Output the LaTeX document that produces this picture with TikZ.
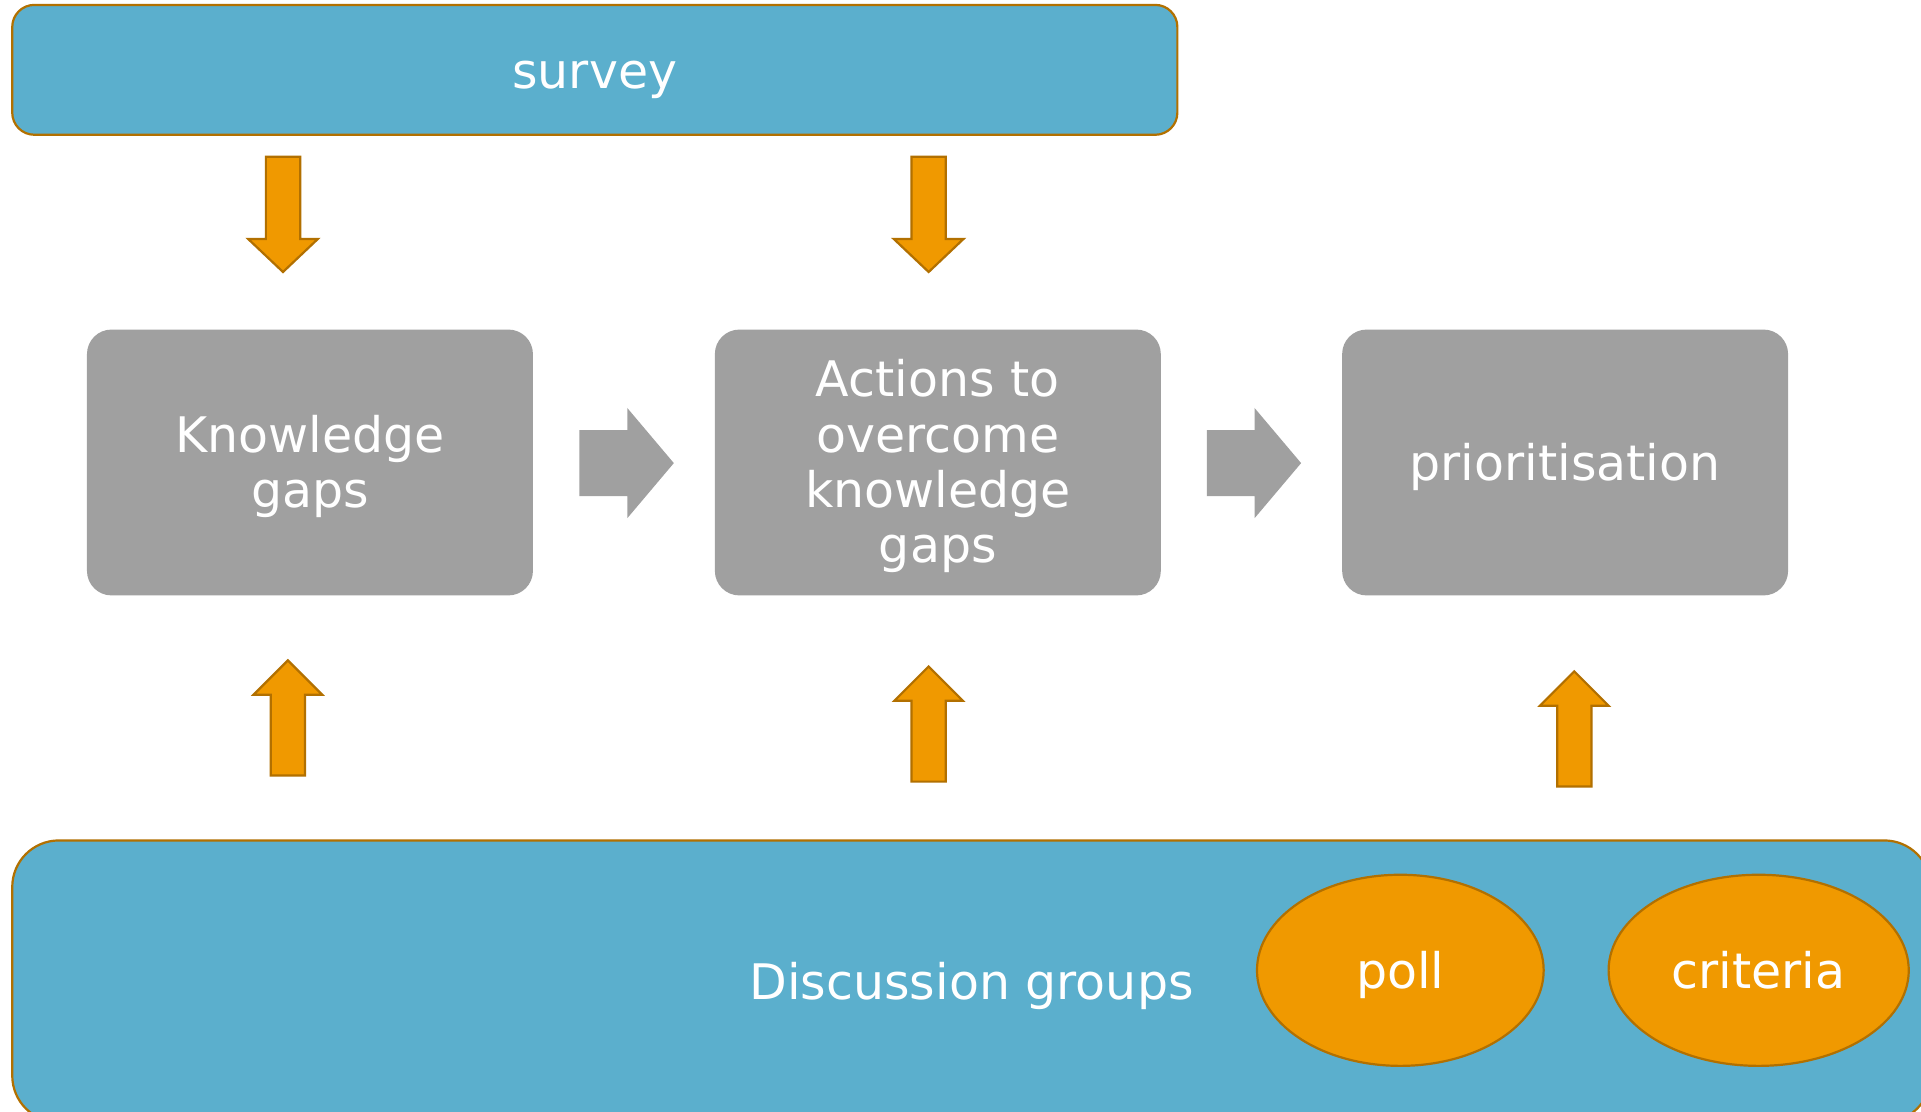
\documentclass[tikz,border=0pt]{standalone}
\usepackage{fontspec}
\setmainfont{DejaVu Sans}
\usetikzlibrary{shapes.geometric}
\definecolor{bluefill}{RGB}{91,175,205}
\definecolor{brownline}{RGB}{178,112,0}
\definecolor{orangefill}{RGB}{240,153,0}
\definecolor{grayfill}{RGB}{160,160,160}
\tikzset{
  txt/.style={text=white, font=\fontsize{40}{45}\selectfont, align=center, inner sep=0pt},
  oneline/.style={text height=30pt, text depth=0pt},
  bluebox/.style={txt, oneline, fill=bluefill, draw=brownline, line width=1.8pt},
  graybox/.style={txt, fill=grayfill, rounded corners=20pt, minimum width=364pt, minimum height=217pt},
  oval/.style={txt, oneline, ellipse, fill=orangefill, draw=brownline, line width=1.8pt},
  orangeshape/.style={fill=orangefill, draw=brownline, line width=1.8pt, line join=miter},
  grayshape/.style={fill=grayfill},
  downarrow/.pic={\draw[orangeshape] (-14,0)--(14,0)--(14,67)--(28.5,67)--(0,94)--(-28.5,67)--(-14,67)--cycle;},
  uparrow/.pic={\draw[orangeshape] (0,0)--(28,28)--(14,28)--(14,94)--(-14,94)--(-14,28)--(-28,28)--cycle;},
  chevron/.pic={\fill[grayshape] (0,-27)--(39,-27)--(39,-45)--(77,0)--(39,45)--(39,27)--(0,27)--cycle;}
}
\begin{document}
\begin{tikzpicture}[x=1pt,y=-1pt]
\useasboundingbox (0,0) rectangle (1568,907);
\clip (0,0) rectangle (1568,907);
\fill[white] (0,0) rectangle (1568,907);

\node[bluebox, rounded corners=18pt, minimum width=951pt, minimum height=106pt] (survey) at (485.5,57) {survey};

\pic at (231,128) {downarrow};
\pic at (758,128) {downarrow};

\node[graybox, label={[txt, yshift=-3pt]center:{Knowledge\\gaps}}] (gaps) at (253,377.5) {};
\node[graybox, label={[txt, yshift=-3pt]center:{Actions to\\overcome\\knowledge\\gaps}}] (actions) at (765.5,377.5) {};
\node[graybox, oneline] (prio) at (1277.5,377.5) {prioritisation};

\pic at (473,378) {chevron};
\pic at (985,378) {chevron};

\pic at (235,539) {uparrow};
\pic at (758,544) {uparrow};
\pic at (1285,548) {uparrow};

\node[bluebox, rounded corners=38pt, minimum width=1566pt, minimum height=230pt] (discussion) at (793,801) {Discussion groups};

\node[oval, minimum width=234pt, minimum height=156pt] (poll) at (1143,792) {poll};
\node[oval, minimum width=245pt, minimum height=156pt] (criteria) at (1435.5,792) {criteria};
\end{tikzpicture}
\end{document}
